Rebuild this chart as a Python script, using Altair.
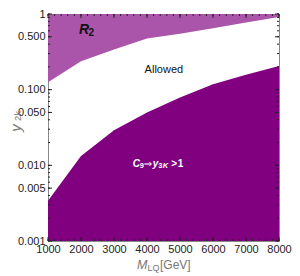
import altair as alt
import pandas as pd

# ---- data ----
mass = [1000, 2000, 3000, 4000, 5000, 6000, 7000, 8000]
r2_lower_edge = [0.125, 0.237, 0.34, 0.475, 0.55, 0.65, 0.77, 0.915]
c9_upper_edge = [0.0034, 0.0133, 0.029, 0.05, 0.079, 0.118, 0.157, 0.205]

x_labels = [1000, 2000, 3000, 4000, 5000, 6000, 7000, 8000]
y_labels = [0.001, 0.005, 0.01, 0.05, 0.1, 0.5, 1]
x_minor = list(range(1000, 8001, 200))
y_minor = [k * 10.0 ** n for n in (-3, -2, -1) for k in range(1, 10)] + [1.0]

W, H = 231, 227
FONT = "Liberation Sans"

df = pd.DataFrame({"x": mass, "up": r2_lower_edge, "lo": c9_upper_edge})

xs = alt.Scale(domain=[1000, 8000], nice=False, zero=False)
ys = alt.Scale(type="log", domain=[0.001, 1], nice=False)

xaxis = alt.Axis(values=x_labels, format="d", title=None, ticks=False, domain=False,
                 grid=False, labelFontSize=11, labelFont=FONT, labelColor="#222",
                 labelPadding=2, labelFlush=False, labelOverlap=False)
yaxis = alt.Axis(values=y_labels, title=None, ticks=False, domain=False, grid=False,
                 labelExpr="datum.value == 1 ? '1' : format(datum.value, '.3f')",
                 labelFontSize=11, labelFont=FONT, labelColor="#222", labelPadding=3,
                 labelOverlap=False)

base = alt.Chart(df)
r2 = base.mark_area(color="#AA55AA", interpolate="linear").encode(
    x=alt.X("x:Q", scale=xs, axis=xaxis),
    y=alt.Y("up:Q", scale=ys, axis=yaxis),
    y2=alt.datum(1),
)
c9 = base.mark_area(color="#800080", interpolate="linear").encode(
    x=alt.X("x:Q", scale=xs, axis=xaxis),
    y=alt.Y("lo:Q", scale=ys, axis=yaxis),
    y2=alt.datum(0.001),
)

xmin_df = pd.DataFrame({"x": x_minor})
xmaj_df = pd.DataFrame({"x": x_labels})
ymin_df = pd.DataFrame({"y": y_minor})
ymaj_df = pd.DataFrame({"y": y_labels})

def xt(d, ln):
    enc_x = alt.X("x:Q", scale=xs, axis=xaxis)
    b = alt.Chart(d).mark_rule(color="#222", strokeWidth=1).encode(
        x=enc_x, y=alt.value(H), y2=alt.value(H - ln))
    t = alt.Chart(d).mark_rule(color="#222", strokeWidth=1).encode(
        x=enc_x, y=alt.value(0), y2=alt.value(ln))
    return [b, t]

def yt(d, ln):
    enc_y = alt.Y("y:Q", scale=ys, axis=yaxis)
    l = alt.Chart(d).mark_rule(color="#222", strokeWidth=1).encode(
        y=enc_y, x=alt.value(0), x2=alt.value(ln))
    r = alt.Chart(d).mark_rule(color="#222", strokeWidth=1).encode(
        y=enc_y, x=alt.value(W), x2=alt.value(W - ln))
    return [l, r]

ticks = xt(xmin_df, 2) + xt(xmaj_df, 4) + yt(ymin_df, 2) + yt(ymaj_df, 4)

one = pd.DataFrame({"a": [0]})

def lab(text, xv, yv, size, color, dx=0, dy=0, style="normal", weight="normal",
        font=FONT, align="left", angle=0):
    return alt.Chart(one).mark_text(
        text=text, align=align, baseline="middle", fontSize=size, color=color,
        dx=dx, dy=dy, fontStyle=style, fontWeight=weight, font=font, angle=angle,
    ).encode(x=xv, y=yv)

def dx_(v):
    return alt.XDatum(v, scale=xs, axis=xaxis)

def dy_(v):
    return alt.YDatum(v, scale=ys, axis=yaxis)

# annotations placed in data coordinates
r2x, r2y = dx_(1936), dy_(0.615)
ann = [
    lab("R", r2x, r2y, 14, "#111", style="italic", weight="bold"),
    lab("2", r2x, r2y, 10, "#111", dx=9.5, dy=3, weight="bold"),
    lab("Allowed", dx_(3928), dy_(0.1817), 11, "#111"),
]
cx, cy = dx_(3571), dy_(0.01047)
ann += [
    lab("C", cx, cy, 10, "white", style="italic", weight="bold"),
    lab("9", cx, cy, 7.5, "white", dx=6.8, dy=2, weight="bold"),
    lab("⇒", cx, cy, 10, "white", dx=11, font="DejaVu Sans"),
    lab("y", cx, cy, 10, "white", dx=20, style="italic", weight="bold"),
    lab("3", cx, cy, 7.5, "white", dx=25.5, dy=2, weight="bold"),
    lab("K", cx, cy, 7.5, "white", dx=30, dy=2, style="italic", weight="bold"),
    lab(">", cx, cy, 10, "white", dx=38.5, weight="bold"),
    lab("1", cx, cy, 10, "white", dx=45, weight="bold"),
]

# axis titles (pixel positions relative to the plot area)
titles = [
    lab("M", alt.value(89), alt.value(251), 12.5, "#777", style="italic"),
    lab("LQ", alt.value(99.5), alt.value(254), 9, "#777"),
    lab("[GeV]", alt.value(112), alt.value(251), 12, "#777"),
    lab("y", alt.value(-32), alt.value(114), 15, "#777", style="italic",
        align="center", angle=270),
    lab("2k", alt.value(-30), alt.value(102), 9.5, "#777", align="center", angle=270),
]

chart = alt.layer(r2, c9, *ticks, *ann, *titles).properties(
    width=W, height=H,
    autosize=alt.AutoSizeParams(type="none"),
    padding={"left": 40, "top": 6, "right": 13, "bottom": 35},
    background="white",
).configure_view(stroke="#888", strokeWidth=1).configure_axis(
    labelOverlap=False
).configure_axisX(labelOverlap=False)

chart.save("out.html", embed_options={"renderer": "svg", "actions": False})
